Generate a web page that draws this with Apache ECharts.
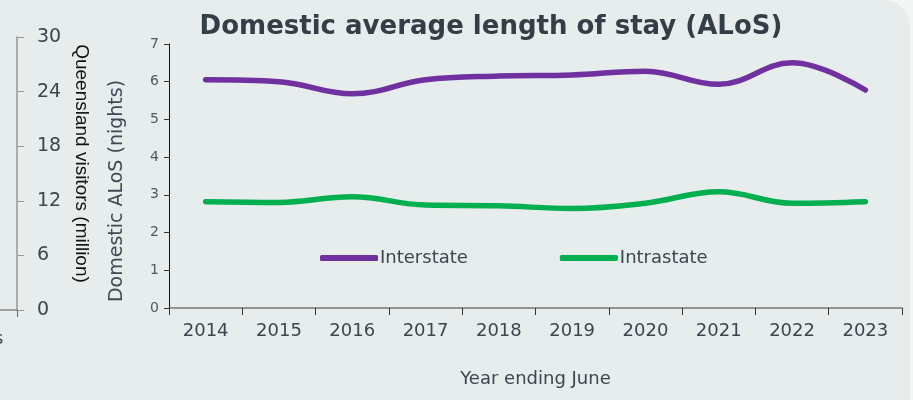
<!DOCTYPE html>
<html>
<head>
<meta charset="utf-8">
<style>
html,body{margin:0;padding:0;background:#f4f6f6;}
#chart{width:913px;height:400px;}
</style>
<script src="https://cdn.jsdelivr.net/npm/echarts@6/dist/echarts.min.js"></script>
</head>
<body>
<div id="chart"></div>
<script>
var years = ['2014','2015','2016','2017','2018','2019','2020','2021','2022','2023'];
var interstate = [6.05, 6.0, 5.68, 6.05, 6.15, 6.18, 6.28, 5.93, 6.5, 5.78];
var intrastate = [2.82, 2.80, 2.95, 2.73, 2.71, 2.64, 2.78, 3.08, 2.78, 2.82];
var leftAxisLabels = [0, 6, 12, 18, 24, 30];

var chart = echarts.init(document.getElementById('chart'));
var txt = '#3b4650';
chart.setOption({
  backgroundColor: 'transparent',
  animation: false,
  graphic: [
    {type: 'rect', z: -10, shape: {x: -40, y: 0, width: 950, height: 460, r: [0, 26, 0, 0]}, style: {fill: '#e7ecec'}},
    {type: 'text', left: -6, top: 330, style: {text: 's', font: '18px "DejaVu Sans"', fill: txt}}
  ],
  title: {
    text: 'Domestic average length of stay (ALoS)',
    left: 486, top: 9, textAlign: 'center',
    textStyle: {fontFamily: 'DejaVu Sans', fontWeight: 'bold', fontSize: 26, color: '#333e47'}
  },
  legend: {
    data: ['Interstate', 'Intrastate'],
    left: 315, top: 244, itemWidth: 58, itemHeight: 6, itemGap: 92,
    icon: 'roundRect',
    textStyle: {fontFamily: 'DejaVu Sans', fontSize: 18, color: txt, padding: [0,0,0,-3]}
  },
  grid: [
    {left: 169, right: 11, top: 44, bottom: 92, outerBoundsMode: 'none'},
    {left: -200, width: 217, top: 37, bottom: 90, outerBoundsMode: 'none'}
  ],
  xAxis: [
    {
      type: 'category', gridIndex: 0, data: years, boundaryGap: true,
      axisLine: {lineStyle: {color: '#777', width: 1.5}},
      axisTick: {show: true, length: 7, lineStyle: {color: '#333'}},
      axisLabel: {fontFamily: 'DejaVu Sans', fontSize: 18, color: txt, margin: 14},
      name: 'Year ending June', nameLocation: 'middle', nameGap: 62,
      nameTextStyle: {fontFamily: 'DejaVu Sans', fontSize: 18, color: txt}
    },
    {
      type: 'category', gridIndex: 1, data: [''], boundaryGap: true,
      axisLine: {lineStyle: {color: '#888', width: 1.5}},
      axisTick: {show: true, length: 7, lineStyle: {color: '#666'}},
      axisLabel: {show: false}
    }
  ],
  yAxis: [
    {
      type: 'value', gridIndex: 0, min: 0, max: 7, interval: 1,
      axisLine: {show: true, lineStyle: {color: '#111', width: 1}},
      axisTick: {show: true, length: 5, lineStyle: {color: '#333'}},
      axisLabel: {fontFamily: 'DejaVu Sans', fontSize: 14, color: '#505a62', margin: 10},
      splitLine: {show: false},
      name: 'Domestic ALoS (nights)', nameLocation: 'middle', nameGap: 42, nameRotate: 90,
      nameTextStyle: {fontFamily: 'DejaVu Sans', fontSize: 19, color: '#3e4a55', padding: [0, 30, 0, 0]}
    },
    {
      type: 'value', gridIndex: 1, position: 'right', min: 0, max: 30, interval: 6,
      axisLine: {show: true, lineStyle: {color: '#999', width: 1.5}},
      axisTick: {show: true, length: 7, lineStyle: {color: '#999'}},
      axisLabel: {fontFamily: 'DejaVu Sans', fontSize: 19, color: txt, margin: 20,
        formatter: function (v) { return leftAxisLabels.indexOf(v) >= 0 ? String(v) : ''; }},
      splitLine: {show: false},
      name: 'Queensland visitors (million)', nameLocation: 'middle', nameGap: 55, nameRotate: -90,
      nameTextStyle: {fontFamily: 'Liberation Sans', fontSize: 19, color: '#111', padding: [0, 20, 0, 0]}
    }
  ],
  series: [
    {
      name: 'Interstate', type: 'line', xAxisIndex: 0, yAxisIndex: 0, data: interstate,
      smooth: 0.4, showSymbol: false, symbol: 'none',
      lineStyle: {color: '#7030a0', width: 5.5, cap: 'round'},
      itemStyle: {color: '#7030a0'}
    },
    {
      name: 'Intrastate', type: 'line', xAxisIndex: 0, yAxisIndex: 0, data: intrastate,
      smooth: 0.4, showSymbol: false, symbol: 'none',
      lineStyle: {color: '#00b050', width: 5.5, cap: 'round'},
      itemStyle: {color: '#00b050'}
    }
  ]
});
</script>
</body>
</html>
